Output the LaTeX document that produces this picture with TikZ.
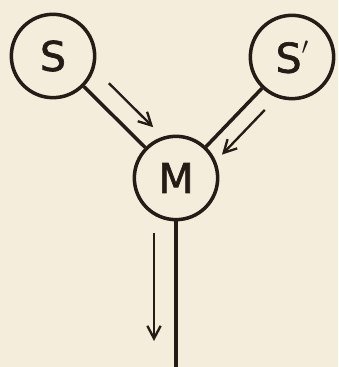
\documentclass[tikz,border=0pt]{standalone}
\usepackage{fontspec}
\newfontfamily\letfont[FakeBold=1.6]{DejaVu Sans}
\usetikzlibrary{positioning,arrows.meta,calc}
\definecolor{paper}{RGB}{245,237,220}
\definecolor{ink}{RGB}{38,28,22}

\begin{document}
\begin{tikzpicture}[x=0.3mm, y=0.3mm,
  every node/.style={font=\letfont\fontsize{35}{35}\selectfont, text=ink},
  cell/.style={draw=ink, circle, line width=3pt, minimum size=25mm, inner sep=0pt},
  nerve/.style={draw=ink, line width=3pt},
  arr/.style={draw=ink, line width=2pt, -{Straight Barb[length=3.8mm, width=4mm, line width=2pt]}}]

%% ── Background and frame ─────────────────────────────────────────
\fill[paper] (0,0) rectangle (338,367);
\useasboundingbox (0,0) rectangle (338,367);

%% ── Cells ────────────────────────────────────────────────────────
\node[cell] (S)  at (53, 311)  {S};
\node[cell] (S2) at (292, 310) {S\raisebox{0.45em}{\fontsize{20}{20}\selectfont$\prime$}};
\node[cell] (M)  at (176, 189) {M};
\coordinate (end) at (176, 0);

%% ── Connections ──────────────────────────────────────────────────
\draw[nerve] (S)  -- (M);
\draw[nerve] (S2) -- (M);
\draw[nerve] (M.south) -- (end);

%% ── Direction arrows ─────────────────────────────────────────────
\draw[arr] ($(S)!0.34!(M)!6mm!90:(M)$)  -- ($(S)!0.70!(M)!6mm!90:(M)$);
\draw[arr] ($(S2)!0.34!(M)!5.1mm!90:(M)$) -- ($(S2)!0.71!(M)!5.1mm!90:(M)$);
\draw[arr] ($(M)+(-22,-55)$) -- ($(M)+(-22,-163)$);
\end{tikzpicture}
\end{document}
